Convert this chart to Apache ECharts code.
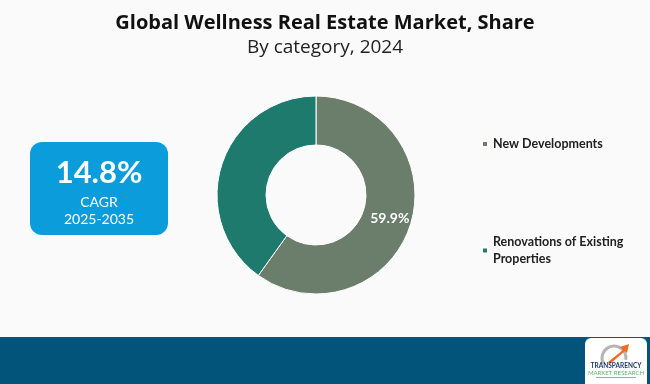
<!DOCTYPE html>
<html><head><meta charset="utf-8">
<script src="https://cdn.jsdelivr.net/npm/echarts@6/dist/echarts.min.js"></script>
<style>html,body{margin:0;padding:0;background:#fafafa;}#c{width:650px;height:384px;}</style>
</head><body><div id="c"></div>
<script>
var categories = ["New Developments", "Renovations of Existing Properties"];
var shares = [59.9, 40.1];
var sliceColors = ["#6b7e6c", "#1f7a6e"];
var cagrValue = "14.8%";
var cagrLabel = "CAGR";
var cagrPeriod = "2025-2035";

var chart = echarts.init(document.getElementById('c'), null, {renderer: 'canvas'});
var pieData = categories.map(function (c, i) {
  return {
    name: c, value: shares[i],
    itemStyle: {color: sliceColors[i]},
    label: {show: i === 0}
  };
});
var legendBase = {
  orient: 'vertical', left: 476, icon: 'rect', itemWidth: 6, itemHeight: 6, itemGap: 10,
  textStyle: {fontFamily: 'Lato', fontWeight: 'bold', fontSize: 12.5, color: '#222', lineHeight: 16},
  selectedMode: false
};
chart.setOption({
  backgroundColor: '#fafafa',
  animation: false,
  title: [
    {text: 'Global Wellness Real Estate Market, Share', left: 'center', top: 8,
     textStyle: {fontFamily: 'Open Sans', fontWeight: 'bold', fontSize: 20, color: '#111'}},
    {text: 'By category, 2024', left: 'center', top: 33,
     textStyle: {fontFamily: 'Open Sans', fontWeight: 'normal', fontSize: 19, color: '#222'}}
  ],
  legend: [
    Object.assign({}, legendBase, {top: 131, data: [categories[0]]}),
    Object.assign({}, legendBase, {top: 220, data: [categories[1]],
      formatter: function () { return 'Renovations of Existing\nProperties'; },
      textStyle: Object.assign({}, legendBase.textStyle, {lineHeight: 17, padding: [17, 0, 0, 0]})})
  ],
  series: [{
    type: 'pie', center: [316, 195], radius: [50, 99], startAngle: 90, clockwise: true,
    avoidLabelOverlap: false,
    itemStyle: {borderColor: '#ffffff', borderWidth: 1},
    label: {show: true, position: 'inside', formatter: function (p) { return p.value.toFixed(1) + '%'; },
      color: '#fff', fontFamily: 'Lato', fontWeight: 'bold', fontSize: 14},
    labelLine: {show: false},
    emphasis: {disabled: true},
    data: pieData
  }],
  graphic: [
    {type: 'rect', shape: {x: 30, y: 142, width: 138, height: 93, r: 12}, style: {fill: '#0b9ddb'}},
    {type: 'text', x: 99, y: 173, style: {text: cagrValue, fill: '#fff', font: 'bold 31px Lato', align: 'center', verticalAlign: 'middle'}},
    {type: 'text', x: 99, y: 202, style: {text: cagrLabel, fill: '#fff', font: '14px Lato', align: 'center', verticalAlign: 'middle'}},
    {type: 'text', x: 99, y: 219, style: {text: cagrPeriod, fill: '#fff', font: '14px Lato', align: 'center', verticalAlign: 'middle'}},
    {type: 'rect', shape: {x: 0, y: 337, width: 650, height: 47}, style: {fill: '#02547a'}},
    {type: 'rect', shape: {x: 585, y: 338, width: 62, height: 52, r: 6}, style: {fill: '#ffffff'}},
    {type: 'arc', shape: {cx: 614, cy: 358, r: 12, startAngle: Math.PI * 0.85, endAngle: Math.PI * 0.05}, style: {stroke: '#b5b5b5', lineWidth: 3, fill: null}},
    {type: 'polygon', shape: {points: [[608, 362], [623, 350], [620, 347], [629, 344], [627, 353], [625, 351], [610, 364]]}, style: {fill: '#f26b21'}},
    {type: 'text', x: 616, y: 366, style: {text: 'TRANSPARENCY', fill: '#1d3a6b', font: 'bold 6.5px Lato', align: 'center', verticalAlign: 'middle'}},
    {type: 'text', x: 616, y: 373, style: {text: 'MARKET RESEARCH', fill: '#5bb56b', font: '6px Lato', align: 'center', verticalAlign: 'middle'}},
    {type: 'rect', shape: {x: 596, y: 377, width: 40, height: 1}, style: {fill: '#9aa7b8'}}
  ]
});
</script></body></html>
